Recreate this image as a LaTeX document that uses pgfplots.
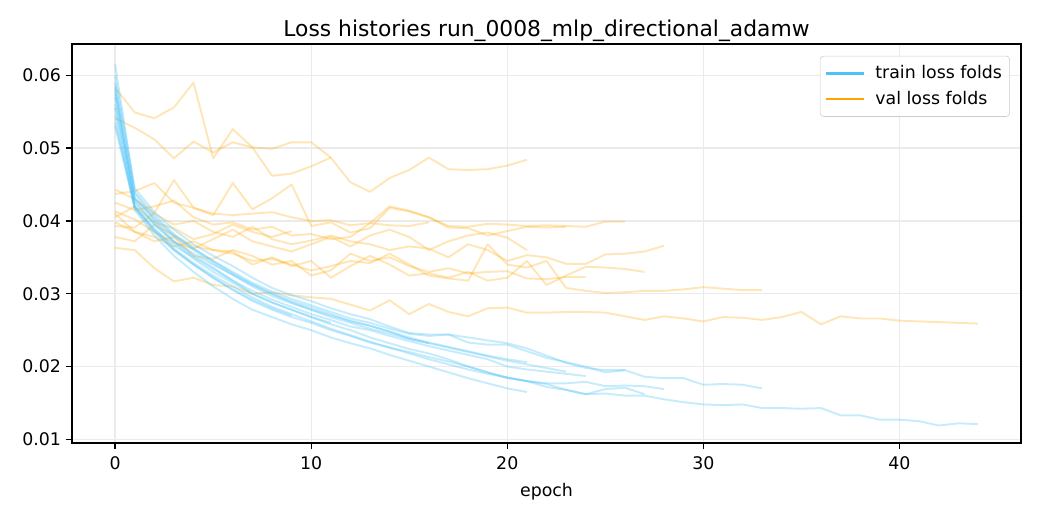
\documentclass[border=0pt]{standalone}
\usepackage{fontspec}
\setmainfont{DejaVu Sans}
\usepackage{pgfplots}
\pgfplotsset{compat=1.18}
\definecolor{trainc}{HTML}{4FC3F7}
\definecolor{valc}{HTML}{FFA500}
\pgfplotsset{
  trl/.style={color=trainc, draw opacity=0.32, line width=1.4pt, line join=round, mark=none, forget plot},
  vl/.style={color=valc, draw opacity=0.28, line width=1.4pt, line join=round, mark=none, forget plot},
}
\begin{document}
\begin{tikzpicture}
\useasboundingbox (-51.84pt,-55.44pt) rectangle (696.96pt,318.96pt);
\begin{axis}[
  at={(0,0)}, anchor=south west,
  scale only axis, width=683.28pt, height=287.28pt,
  xmin=-2.2, xmax=46.2, ymin=0.0095, ymax=0.0643,
  xtick={0,10,20,30,40}, ytick={0.01,0.02,0.03,0.04,0.05,0.06},
  scaled y ticks=false,
  yticklabel style={/pgf/number format/fixed,/pgf/number format/fixed zerofill,/pgf/number format/precision=2},
  xticklabel style={yshift=-2pt},
  /pgf/number format/assume math mode=true,
  tick label style={font=\fontsize{12.5}{15}\selectfont},
  label style={font=\fontsize{12.5}{15}\selectfont},
  xlabel style={yshift=-3pt},
  title style={font=\fontsize{15.7}{19}\selectfont, at={(0.5,1)}, anchor=base, yshift=-0.8pt},
  tick align=outside, major tick length=4.4pt,
  every tick/.style={black, line width=1pt},
  xtick pos=left, ytick pos=left,
  axis line style={line width=1pt},
  grid=major, major grid style={black!8, line width=1pt},
  xlabel={epoch},
  title={Loss histories run\_0008\_mlp\_directional\_adamw},
  legend cell align=left,
  legend image code/.code={\draw[#1, line width=1.875pt] (0pt,0pt) -- (27.4pt,0pt);},
  legend style={at={(1,1)}, anchor=north east, xshift=-8pt, yshift=-8.5pt,
    draw=black!20, rounded corners=2.5pt, fill=white, fill opacity=0.8, text opacity=1,
    font=\fontsize{12.5}{15}\selectfont, inner xsep=3pt, inner ysep=5pt, row sep=3.5pt,
    nodes={inner xsep=2.5pt},
    /tikz/every odd column/.append style={column sep=5pt}},
]
% ---------------- validation folds ----------------
\addplot[vl] table[header=false,x expr=\coordindex,y index=0,row sep=\\]{0.0583\\0.0549\\0.0541\\0.0556\\0.0590\\0.0486\\0.0526\\0.0501\\0.0462\\0.0465\\0.0475\\0.0487\\};
\addplot[vl] table[header=false,x expr=\coordindex,y index=0,row sep=\\]{0.0541\\0.0528\\0.0512\\0.0486\\0.0509\\0.0494\\0.0508\\0.0501\\0.0499\\0.0508\\0.0508\\0.0487\\0.0453\\0.0440\\0.0459\\0.0470\\0.0487\\0.0471\\0.0470\\0.0471\\0.0476\\0.0484\\};
\addplot[vl] table[header=false,x expr=\coordindex,y index=0,row sep=\\]{0.0437\\0.0441\\0.0452\\0.0425\\0.0418\\0.0410\\0.0408\\0.0410\\0.0412\\0.0405\\0.0400\\0.0401\\0.0394\\0.0397\\0.0394\\0.0393\\0.0398\\};
\addplot[vl] table[header=false,x expr=\coordindex,y index=0,row sep=\\]{0.0405\\0.0420\\0.0398\\0.0390\\0.0375\\0.0382\\0.0395\\0.0385\\0.0378\\0.0386\\};
\addplot[vl] table[header=false,x expr=\coordindex,y index=0,row sep=\\]{0.0393\\0.0391\\0.0411\\0.0456\\0.0418\\0.0408\\0.0452\\0.0416\\0.0431\\0.0450\\0.0393\\0.0398\\0.0384\\0.0390\\0.0418\\0.0413\\0.0405\\0.0393\\0.0392\\0.0396\\0.0395\\0.0393\\0.0394\\0.0393\\0.0392\\0.0399\\0.0399\\};
\addplot[vl] table[header=false,x expr=\coordindex,y index=0,row sep=\\]{0.0425\\0.0415\\0.0420\\0.0428\\0.0405\\0.0395\\0.0398\\0.0388\\0.0392\\0.0380\\0.0382\\0.0375\\0.0378\\0.0397\\0.0420\\0.0414\\0.0405\\0.0391\\0.0390\\0.0380\\0.0386\\0.0392\\0.0391\\0.0392\\};
\addplot[vl] table[header=false,x expr=\coordindex,y index=0,row sep=\\]{0.0413\\0.0402\\0.0385\\0.0370\\0.0362\\0.0375\\0.0388\\0.0372\\0.0365\\0.0358\\0.0368\\0.0378\\0.0365\\0.0380\\0.0388\\0.0378\\0.0360\\0.0372\\0.0380\\0.0384\\0.0377\\0.0360\\};
\addplot[vl] table[header=false,x expr=\coordindex,y index=0,row sep=\\]{0.0410\\0.0385\\0.0372\\0.0378\\0.0352\\0.0348\\0.0360\\0.0352\\0.0340\\0.0345\\0.0325\\0.0332\\0.0355\\0.0345\\0.0350\\0.0338\\0.0330\\0.0335\\0.0328\\0.0330\\0.0331\\0.0321\\0.0320\\0.0323\\0.0323\\};
\addplot[vl] table[header=false,x expr=\coordindex,y index=0,row sep=\\]{0.0443\\0.0430\\0.0410\\0.0395\\0.0400\\0.0385\\0.0378\\0.0392\\0.0375\\0.0368\\0.0373\\0.0380\\0.0372\\0.0368\\0.0360\\0.0365\\0.0362\\0.0350\\0.0368\\0.0360\\0.0345\\0.0353\\0.0350\\0.0341\\0.0341\\0.0354\\0.0355\\0.0358\\0.0366\\};
\addplot[vl] table[header=false,x expr=\coordindex,y index=0,row sep=\\]{0.0378\\0.0372\\0.0395\\0.0380\\0.0365\\0.0360\\0.0358\\0.0340\\0.0350\\0.0338\\0.0345\\0.0322\\0.0338\\0.0352\\0.0340\\0.0325\\0.0328\\0.0322\\0.0330\\0.0318\\0.0322\\0.0345\\0.0312\\0.0325\\0.0337\\0.0336\\0.0334\\0.0330\\};
\addplot[vl] table[header=false,x expr=\coordindex,y index=0,row sep=\\]{0.0398\\0.0385\\0.0378\\0.0365\\0.0372\\0.0360\\0.0355\\0.0345\\0.0348\\0.0340\\0.0332\\0.0338\\0.0345\\0.0342\\0.0355\\0.0340\\0.0325\\0.0321\\0.0318\\0.0368\\0.0340\\0.0336\\0.0345\\0.0308\\0.0304\\0.0301\\0.0302\\0.0304\\0.0304\\0.0306\\0.0309\\0.0307\\0.0305\\0.0305\\};
\addplot[vl] table[header=false,x expr=\coordindex,y index=0,row sep=\\]{0.0363\\0.0360\\0.0335\\0.0317\\0.0322\\0.0312\\0.0310\\0.0300\\0.0302\\0.0298\\0.0295\\0.0293\\0.0285\\0.0277\\0.0291\\0.0272\\0.0286\\0.0275\\0.0269\\0.0280\\0.0281\\0.0274\\0.0274\\0.0275\\0.0275\\0.0274\\0.0269\\0.0264\\0.0269\\0.0266\\0.0262\\0.0268\\0.0267\\0.0264\\0.0268\\0.0275\\0.0258\\0.0269\\0.0266\\0.0266\\0.0263\\0.0262\\0.0261\\0.0260\\0.0259\\};
% ---------------- training folds ----------------
\addplot[trl] table[header=false,x expr=\coordindex,y index=0,row sep=\\]{0.0575\\0.0432\\0.0400\\0.0372\\0.0352\\0.0336\\0.0318\\0.0300\\0.0288\\0.0278\\0.0268\\0.0258\\0.0250\\0.0240\\0.0232\\0.0224\\0.0218\\0.0210\\0.0200\\0.0192\\0.0185\\0.0180\\0.0172\\0.0168\\0.0162\\0.0163\\0.0160\\0.0160\\0.0155\\0.0151\\0.0148\\0.0147\\0.0148\\0.0143\\0.0143\\0.0142\\0.0143\\0.0133\\0.0133\\0.0127\\0.0127\\0.0125\\0.0119\\0.0122\\0.0121\\};
\addplot[trl] table[header=false,x expr=\coordindex,y index=0,row sep=\\]{0.0600\\0.0445\\0.0412\\0.0388\\0.0368\\0.0352\\0.0338\\0.0322\\0.0308\\0.0298\\0.0290\\0.0280\\0.0272\\0.0265\\0.0255\\0.0246\\0.0244\\0.0244\\0.0240\\0.0236\\0.0232\\0.0225\\0.0215\\0.0205\\0.0198\\0.0195\\0.0195\\0.0186\\0.0184\\0.0184\\0.0175\\0.0176\\0.0175\\0.0170\\};
\addplot[trl] table[header=false,x expr=\coordindex,y index=0,row sep=\\]{0.0585\\0.0430\\0.0405\\0.0380\\0.0362\\0.0345\\0.0330\\0.0315\\0.0303\\0.0293\\0.0284\\0.0275\\0.0266\\0.0260\\0.0252\\0.0245\\0.0242\\0.0244\\0.0233\\0.0230\\0.0230\\0.0221\\0.0212\\0.0206\\0.0200\\0.0192\\0.0195\\};
\addplot[trl] table[header=false,x expr=\coordindex,y index=0,row sep=\\]{0.0570\\0.0420\\0.0390\\0.0362\\0.0342\\0.0325\\0.0310\\0.0295\\0.0282\\0.0272\\0.0262\\0.0252\\0.0243\\0.0234\\0.0226\\0.0220\\0.0213\\0.0207\\0.0200\\0.0192\\0.0184\\0.0180\\0.0177\\0.0177\\0.0179\\0.0173\\0.0174\\0.0173\\0.0169\\};
\addplot[trl] table[header=false,x expr=\coordindex,y index=0,row sep=\\]{0.0555\\0.0418\\0.0385\\0.0360\\0.0340\\0.0322\\0.0305\\0.0290\\0.0278\\0.0268\\0.0260\\0.0250\\0.0242\\0.0233\\0.0226\\0.0218\\0.0210\\0.0203\\0.0196\\0.0190\\0.0185\\0.0180\\0.0176\\0.0168\\0.0162\\0.0169\\0.0171\\0.0162\\};
\addplot[trl] table[header=false,x expr=\coordindex,y index=0,row sep=\\]{0.0545\\0.0415\\0.0380\\0.0352\\0.0330\\0.0310\\0.0293\\0.0278\\0.0268\\0.0258\\0.0250\\0.0240\\0.0232\\0.0225\\0.0216\\0.0208\\0.0200\\0.0192\\0.0184\\0.0177\\0.0170\\0.0165\\};
\addplot[trl] table[header=false,x expr=\coordindex,y index=0,row sep=\\]{0.0590\\0.0438\\0.0402\\0.0378\\0.0360\\0.0342\\0.0326\\0.0310\\0.0297\\0.0287\\0.0278\\0.0270\\0.0263\\0.0256\\0.0248\\0.0240\\0.0233\\0.0227\\0.0221\\0.0215\\0.0210\\0.0206\\};
\addplot[trl] table[header=false,x expr=\coordindex,y index=0,row sep=\\]{0.0580\\0.0425\\0.0396\\0.0372\\0.0355\\0.0340\\0.0326\\0.0312\\0.0300\\0.0290\\0.0281\\0.0272\\0.0262\\0.0256\\0.0248\\0.0238\\0.0232\\0.0226\\0.0220\\0.0214\\0.0208\\0.0203\\0.0198\\0.0193\\};
\addplot[trl] table[header=false,x expr=\coordindex,y index=0,row sep=\\]{0.0535\\0.0420\\0.0388\\0.0366\\0.0350\\0.0334\\0.0318\\0.0304\\0.0292\\0.0282\\0.0272\\0.0264\\0.0255\\0.0250\\0.0242\\0.0235\\0.0228\\0.0222\\0.0216\\0.0210\\0.0200\\0.0196\\0.0193\\0.0190\\0.0187\\};
\addplot[trl] table[header=false,x expr=\coordindex,y index=0,row sep=\\]{0.0615\\0.0440\\0.0408\\0.0382\\0.0362\\0.0345\\0.0328\\0.0313\\0.0300\\0.0288\\0.0278\\0.0268\\0.0260\\0.0252\\0.0245\\0.0238\\0.0232\\};
\addplot[trl] table[header=false,x expr=\coordindex,y index=0,row sep=\\]{0.0560\\0.0428\\0.0395\\0.0370\\0.0348\\0.0330\\0.0315\\0.0300\\0.0288\\0.0278\\0.0268\\0.0260\\};
\addplot[trl] table[header=false,x expr=\coordindex,y index=0,row sep=\\]{0.0530\\0.0418\\0.0386\\0.0360\\0.0340\\0.0322\\0.0306\\0.0292\\0.0280\\0.0270\\};
% ---------------- legend ----------------
\addlegendimage{trainc}
\addlegendentry{train loss folds}
\addlegendimage{valc}
\addlegendentry{val loss folds}
\end{axis}
\end{tikzpicture}
\end{document}
